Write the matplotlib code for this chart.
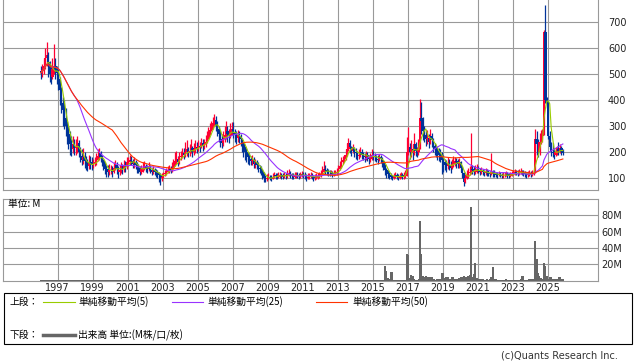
import matplotlib
matplotlib.use("Agg")
import matplotlib.pyplot as plt
import numpy as np
import pandas as pd
from matplotlib.patches import Rectangle
from matplotlib.lines import Line2D

# ---------------- data (monthly, Jan 1996 - Nov 2025) ----------------
start_year = 1996
first_open = 510

close = [
    505, 515, 530, 560, 575, 545, 500, 490, 520, 530, 515, 505,   # 1996
    480, 440, 390, 360, 330, 300, 270, 250, 230, 210, 230, 215,   # 1997
    220, 235, 200, 185, 170, 180, 165, 150, 145, 160, 155, 150,   # 1998
    155, 160, 170, 185, 195, 180, 165, 150, 135, 130, 125, 130,   # 1999
    130, 125, 140, 150, 135, 125, 130, 140, 135, 150, 145, 160,   # 2000
    160, 170, 165, 155, 160, 150, 140, 135, 125, 135, 140, 145,   # 2001
    140, 135, 145, 130, 125, 130, 125, 120, 115, 110, 100, 105,   # 2002
    115, 120, 125, 130, 135, 130, 140, 150, 165, 175, 160, 180,   # 2003
    185, 195, 190, 200, 210, 195, 205, 215, 200, 210, 220, 215,   # 2004
    225, 220, 235, 225, 230, 240, 255, 270, 285, 300, 310, 325,   # 2005
    300, 290, 270, 250, 235, 250, 265, 280, 270, 260, 285, 290,   # 2006
    275, 265, 255, 265, 260, 250, 230, 215, 200, 190, 180, 175,   # 2007
    165, 170, 155, 160, 150, 140, 135, 125, 115, 100, 95, 100,    # 2008
    105, 100, 98, 105, 110, 108, 105, 110, 112, 108, 105, 110,    # 2009
    108, 112, 118, 115, 108, 105, 110, 112, 110, 108, 112, 115,   # 2010
    112, 110, 100, 105, 108, 110, 105, 100, 102, 105, 108, 112,   # 2011
    115, 125, 135, 130, 125, 120, 118, 120, 115, 118, 120, 125,   # 2012
    135, 145, 160, 170, 175, 190, 210, 235, 220, 205, 215, 200,   # 2013
    195, 185, 190, 200, 190, 185, 180, 190, 185, 175, 180, 190,   # 2014
    185, 180, 175, 170, 180, 175, 165, 150, 130, 120, 115, 110,   # 2015
    105, 100, 108, 110, 105, 102, 108, 110, 105, 108, 115, 200,   # 2016
    220, 200, 210, 195, 230, 205, 200, 215, 330, 320, 280, 265,   # 2017
    250, 255, 240, 260, 245, 225, 210, 205, 195, 190, 185, 170,   # 2018
    160, 150, 145, 155, 150, 140, 155, 160, 165, 160, 155, 160,   # 2019
    140, 120, 85, 100, 110, 120, 125, 135, 130, 125, 130, 135,    # 2020
    130, 125, 128, 122, 120, 125, 120, 118, 115, 125, 118, 115,   # 2021
    112, 110, 115, 112, 108, 110, 112, 115, 110, 108, 112, 115,   # 2022
    118, 122, 120, 118, 122, 125, 120, 118, 115, 112, 115, 118,   # 2023
    115, 118, 120, 250, 230, 200, 240, 260, 270, 660, 400, 390,   # 2024
    260, 220, 200, 195, 190, 200, 210, 205, 215, 200, 198,        # 2025
]
high = [
    530, 540, 560, 600, 625, 585, 550, 530, 560, 615, 560, 530,
    520, 490, 450, 410, 400, 370, 320, 300, 280, 260, 260, 250,
    250, 260, 245, 220, 210, 215, 200, 185, 175, 190, 185, 180,
    175, 180, 195, 210, 215, 205, 190, 175, 160, 150, 150, 155,
    150, 145, 160, 170, 160, 145, 150, 160, 155, 170, 165, 180,
    180, 190, 185, 175, 180, 170, 160, 155, 145, 150, 160, 165,
    155, 150, 160, 150, 140, 145, 140, 135, 130, 125, 120, 120,
    125, 130, 140, 145, 150, 148, 160, 175, 200, 205, 185, 200,
    205, 215, 215, 240, 245, 220, 230, 250, 225, 235, 245, 240,
    245, 240, 255, 250, 250, 265, 280, 295, 310, 320, 335, 345,
    340, 320, 300, 285, 270, 280, 300, 320, 300, 290, 310, 315,
    316, 290, 280, 285, 280, 270, 255, 240, 225, 215, 200, 195,
    185, 190, 180, 175, 170, 160, 150, 145, 135, 125, 110, 115,
    118, 112, 110, 118, 125, 120, 118, 122, 125, 120, 118, 122,
    120, 130, 135, 128, 120, 118, 122, 125, 122, 120, 125, 128,
    125, 122, 115, 118, 120, 122, 118, 112, 115, 118, 120, 125,
    130, 145, 166, 150, 140, 135, 130, 132, 128, 130, 132, 138,
    150, 165, 180, 185, 190, 210, 235, 254, 245, 225, 230, 220,
    215, 205, 210, 218, 210, 200, 198, 205, 200, 190, 195, 213,
    205, 195, 190, 188, 193, 190, 180, 170, 155, 140, 130, 125,
    118, 112, 120, 125, 118, 115, 120, 125, 118, 122, 130, 258,
    297, 235, 245, 230, 272, 240, 220, 250, 406, 392, 335, 300,
    285, 285, 270, 290, 275, 255, 235, 225, 220, 215, 210, 200,
    190, 175, 170, 180, 175, 165, 175, 185, 180, 178, 175, 178,
    165, 145, 125, 115, 130, 140, 145, 275, 150, 145, 150, 155,
    145, 140, 142, 135, 132, 140, 135, 130, 128, 195, 130, 130,
    125, 122, 128, 124, 120, 122, 125, 128, 122, 120, 125, 128,
    130, 135, 132, 130, 135, 140, 132, 130, 128, 125, 128, 130,
    128, 132, 140, 287, 280, 250, 275, 285, 290, 670, 765, 410,
    395, 280, 240, 235, 215, 220, 225, 240, 230, 225, 210,
]
low = [
    480, 490, 500, 520, 530, 490, 470, 460, 480, 500, 480, 460,
    440, 380, 350, 300, 290, 260, 230, 210, 190, 185, 195, 190,
    190, 195, 180, 160, 150, 155, 140, 130, 128, 135, 135, 130,
    140, 145, 150, 165, 170, 160, 145, 130, 115, 105, 105, 110,
    115, 105, 118, 130, 115, 100, 110, 120, 115, 125, 125, 135,
    145, 150, 150, 140, 140, 135, 120, 118, 110, 115, 125, 130,
    125, 120, 128, 118, 112, 115, 110, 105, 100, 85, 75, 90,
    100, 108, 112, 118, 120, 118, 125, 135, 145, 155, 145, 155,
    170, 178, 172, 180, 185, 180, 185, 195, 182, 190, 198, 195,
    205, 200, 215, 205, 210, 220, 235, 250, 265, 280, 290, 300,
    280, 260, 240, 220, 215, 225, 240, 250, 240, 235, 255, 265,
    255, 240, 230, 240, 235, 225, 200, 180, 170, 160, 155, 150,
    150, 150, 140, 140, 135, 125, 120, 110, 95, 85, 85, 88,
    95, 92, 90, 95, 100, 98, 96, 100, 102, 98, 95, 100,
    98, 100, 108, 102, 98, 95, 100, 102, 100, 98, 102, 105,
    102, 98, 88, 95, 98, 100, 95, 90, 92, 96, 98, 102,
    105, 110, 120, 115, 112, 108, 108, 110, 105, 108, 110, 112,
    120, 130, 140, 155, 160, 170, 185, 205, 195, 185, 195, 180,
    175, 168, 172, 180, 172, 168, 160, 170, 165, 155, 160, 170,
    170, 165, 160, 155, 165, 158, 142, 130, 110, 102, 100, 98,
    95, 92, 98, 100, 95, 92, 98, 100, 96, 98, 102, 108,
    190, 175, 180, 170, 190, 185, 180, 190, 210, 270, 245, 240,
    225, 230, 215, 230, 220, 200, 190, 180, 170, 165, 160, 117,
    125, 130, 125, 135, 130, 120, 135, 142, 145, 140, 138, 140,
    125, 100, 68, 80, 95, 100, 110, 115, 115, 110, 115, 118,
    118, 112, 115, 110, 108, 112, 108, 106, 104, 110, 104, 104,
    104, 102, 106, 104, 100, 102, 104, 106, 102, 100, 104, 106,
    110, 112, 110, 108, 112, 115, 110, 108, 105, 102, 105, 108,
    105, 108, 110, 118, 190, 180, 190, 230, 240, 265, 390, 370,
    250, 210, 185, 180, 175, 185, 190, 190, 195, 190, 190,
]
# volume in millions
volume = [
    0.2, 0.2, 0.3, 0.2, 0.3, 0.2, 0.2, 0.2, 0.2, 0.2, 0.2, 0.2,   # 1996
    0.2, 0.2, 0.2, 0.2, 0.2, 0.2, 0.2, 0.2, 0.2, 0.3, 0.9, 0.2,   # 1997
    0.2, 0.2, 0.2, 0.2, 0.2, 0.2, 0.2, 0.2, 0.2, 0.2, 0.2, 0.2,   # 1998
    0.2, 0.2, 0.2, 0.2, 0.2, 0.2, 0.2, 0.2, 0.2, 0.2, 0.2, 0.2,   # 1999
    0.2, 0.2, 0.2, 0.2, 0.2, 0.2, 0.2, 0.2, 0.2, 0.2, 0.2, 0.2,   # 2000
    0.2, 0.2, 0.2, 0.2, 0.2, 0.2, 0.2, 0.2, 0.2, 0.2, 0.2, 0.2,   # 2001
    0.2, 0.2, 0.2, 0.2, 0.2, 0.2, 0.2, 0.2, 0.2, 0.2, 0.2, 0.2,   # 2002
    0.2, 0.2, 0.2, 0.2, 0.2, 0.2, 0.2, 0.2, 0.2, 0.2, 0.2, 0.2,   # 2003
    0.2, 0.2, 0.2, 0.2, 0.2, 0.2, 0.2, 0.2, 0.2, 0.2, 0.2, 0.2,   # 2004
    0.2, 0.2, 0.2, 0.2, 0.2, 0.2, 0.2, 0.2, 0.2, 0.2, 0.2, 0.2,   # 2005
    0.2, 0.2, 0.2, 0.2, 0.2, 0.2, 0.2, 0.2, 0.3, 0.8, 0.2, 0.2,   # 2006
    0.2, 0.2, 0.2, 0.2, 0.2, 0.2, 0.2, 0.2, 0.2, 0.2, 0.2, 0.2,   # 2007
    0.2, 0.2, 0.2, 0.2, 0.2, 0.2, 0.2, 0.2, 0.2, 0.2, 0.2, 0.2,   # 2008
    0.2, 0.2, 0.2, 0.2, 0.2, 0.2, 0.2, 0.2, 0.2, 0.2, 0.2, 0.2,   # 2009
    0.2, 0.2, 0.2, 0.2, 0.2, 0.2, 0.2, 0.2, 0.2, 0.2, 0.2, 0.2,   # 2010
    0.2, 0.2, 0.2, 0.2, 0.2, 0.2, 0.2, 0.2, 0.2, 0.2, 0.2, 0.2,   # 2011
    0.2, 0.2, 0.3, 0.2, 0.2, 0.2, 0.2, 0.2, 0.2, 0.2, 0.2, 0.2,   # 2012
    0.2, 0.2, 0.2, 0.2, 0.2, 0.3, 0.3, 0.4, 0.3, 0.3, 1.0, 0.3,   # 2013
    0.3, 0.2, 0.2, 0.3, 0.2, 0.2, 0.2, 0.2, 0.2, 0.2, 0.2, 0.3,   # 2014
    0.3, 1.0, 0.3, 0.3, 0.3, 0.3, 0.4, 0.5, 18.0, 12.0, 3.0, 2.0, # 2015
    10.0, 10.0, 1.0, 0.8, 0.5, 0.5, 0.5, 0.5, 0.5, 0.6, 1.0, 33.0, # 2016
    31.0, 3.0, 7.0, 6.0, 1.5, 1.0, 1.0, 2.0, 73.0, 33.0, 6.0, 5.0, # 2017
    6.0, 5.0, 5.0, 4.0, 5.0, 2.0, 1.5, 1.0, 1.5, 2.0, 1.5, 9.0,   # 2018
    9.0, 3.0, 4.0, 4.0, 2.0, 2.0, 5.0, 5.0, 2.0, 1.5, 1.5, 3.0,   # 2019
    4.0, 5.0, 6.0, 5.0, 4.0, 6.0, 7.0, 90.0, 5.0, 8.0, 22.0, 3.0, # 2020
    2.0, 2.0, 2.0, 1.5, 1.0, 1.0, 1.5, 1.0, 1.5, 5.0, 17.0, 2.0,  # 2021
    1.5, 1.0, 1.0, 1.0, 1.0, 1.0, 1.0, 2.0, 1.0, 1.0, 1.0, 1.0,   # 2022
    1.0, 1.0, 1.0, 1.0, 1.0, 1.5, 6.0, 5.5, 1.0, 1.0, 1.0, 2.0,   # 2023
    2.0, 1.5, 2.0, 48.0, 27.0, 9.0, 6.0, 3.0, 2.0, 22.0, 18.0, 6.0, # 2024
    2.0, 5.0, 5.0, 2.0, 1.5, 2.0, 1.5, 4.0, 4.0, 2.0, 1.5,        # 2025
]
year_labels = list(range(1997, 2026, 2))
price_ticks = [100, 200, 300, 400, 500, 600, 700]
vol_ticks = [20, 40, 60, 80]
ma_periods = [5, 25, 50]

# ---------------- styling ----------------
UP, DN = "#ff0033", "#003399"
MA_COLORS = {5: "#99cc00", 25: "#9933ff", 50: "#ff3300"}
GRID = "#999999"
VOLC = "#666666"
CJK = ["Noto Sans CJK JP", "DejaVu Sans"]

n = len(close)
t = start_year + (np.arange(n) + 0.5) / 12.0
c = np.array(close, float)
o = np.array([first_open] + close[:-1], float)
h = np.maximum(np.array(high, float), np.maximum(o, c))
l = np.minimum(np.array(low, float), np.minimum(o, c))
up = c >= o
cols = np.where(up, UP, DN)

W, H = 638, 362
fig = plt.figure(figsize=(W / 100, H / 100), dpi=100)


def rect(x0, y0, x1, y1):
    return [x0 / W, 1 - y1 / H, (x1 - x0) / W, (y1 - y0) / H]


XL = (1993.9, 2027.9)

# ---- price panel ----
ax = fig.add_axes(rect(3.3, 0, 598.3, 190))
ax.set_xlim(*XL)
ax.set_ylim(54, 785)
ax.vlines(t, l, h, colors=cols, linewidth=0.9, zorder=2)
body = np.maximum(np.abs(c - o), 2)
ax.bar(t, body, bottom=np.minimum(o, c), width=0.13, color=cols, linewidth=0, zorder=3)
s = pd.Series(c)
for p in ma_periods:
    ax.plot(t, s.rolling(p, min_periods=1).mean(), color=MA_COLORS[p], linewidth=0.8, zorder=4)
ax.set_xticks(year_labels)
ax.set_xticklabels([])
ax.set_yticks(price_ticks)
ax.set_yticklabels([str(v) for v in price_ticks])
ax.yaxis.tick_right()
ax.tick_params(axis="both", length=0)
ax.tick_params(axis="y", pad=7, labelsize=7, labelcolor="#222222")
ax.grid(True, color=GRID, linewidth=0.8)
ax.set_axisbelow(True)
for side in ["left", "right", "bottom"]:
    ax.spines[side].set_color(GRID)
    ax.spines[side].set_linewidth(0.8)
ax.spines["top"].set_visible(False)

# ---- volume panel ----
av = fig.add_axes(rect(3.3, 199, 598.3, 280.6))
av.set_xlim(*XL)
av.set_ylim(0, 100)
av.bar(t, volume, width=0.11, color=VOLC, linewidth=0, zorder=3)
av.set_xticks(year_labels)
av.set_xticklabels([str(y) for y in year_labels])
av.set_yticks(vol_ticks)
av.set_yticklabels([f"{v}M" for v in vol_ticks])
av.yaxis.tick_right()
av.tick_params(axis="both", length=0)
av.tick_params(axis="y", pad=2, labelsize=7, labelcolor="#222222")
av.tick_params(axis="x", pad=2, labelsize=7, labelcolor="#222222")
av.grid(True, color=GRID, linewidth=0.8)
av.set_axisbelow(True)
for side in av.spines:
    av.spines[side].set_color(GRID)
    av.spines[side].set_linewidth(0.8)
av.text(5 / 595, 1 - 5 / 81.6, "単位: M", transform=av.transAxes, ha="left", va="center",
        fontsize=7, family=CJK, color="#000000")

# ---- legend box ----
fig.add_artist(Rectangle((3.5 / W, 1 - 344 / H), (632 - 3.5) / W, (344 - 293) / H,
                         transform=fig.transFigure, fill=False, edgecolor="#000000", linewidth=0.8))


def fy(y):
    return 1 - y / H


def leg_line(x0, x1, y, color, lw):
    fig.add_artist(Line2D([x0 / W, x1 / W], [fy(y), fy(y)], transform=fig.transFigure,
                          color=color, linewidth=lw))


def leg_text(x, y, s):
    fig.text(x / W, fy(y), s, ha="left", va="center", fontsize=7, family=CJK, color="#000000")


r1, r2 = 302, 335
leg_text(10, r1, "上段：")
leg_line(43, 75, r1, MA_COLORS[5], 0.8)
leg_text(78, r1, "単純移動平均(5)")
leg_line(172, 203, r1, MA_COLORS[25], 0.8)
leg_text(207, r1, "単純移動平均(25)")
leg_line(316, 347, r1, MA_COLORS[50], 0.8)
leg_text(352, r1, "単純移動平均(50)")
leg_text(10, r2, "下段：")
leg_line(43, 75, r2, VOLC, 2.5)
leg_text(78, r2, "出来高 単位:(M株/口/枚)")

fig.text(618 / W, fy(355), "(c)Quants Research Inc.", ha="right", va="center",
         fontsize=7, color="#333333")

fig.savefig("out.png", dpi=100)
